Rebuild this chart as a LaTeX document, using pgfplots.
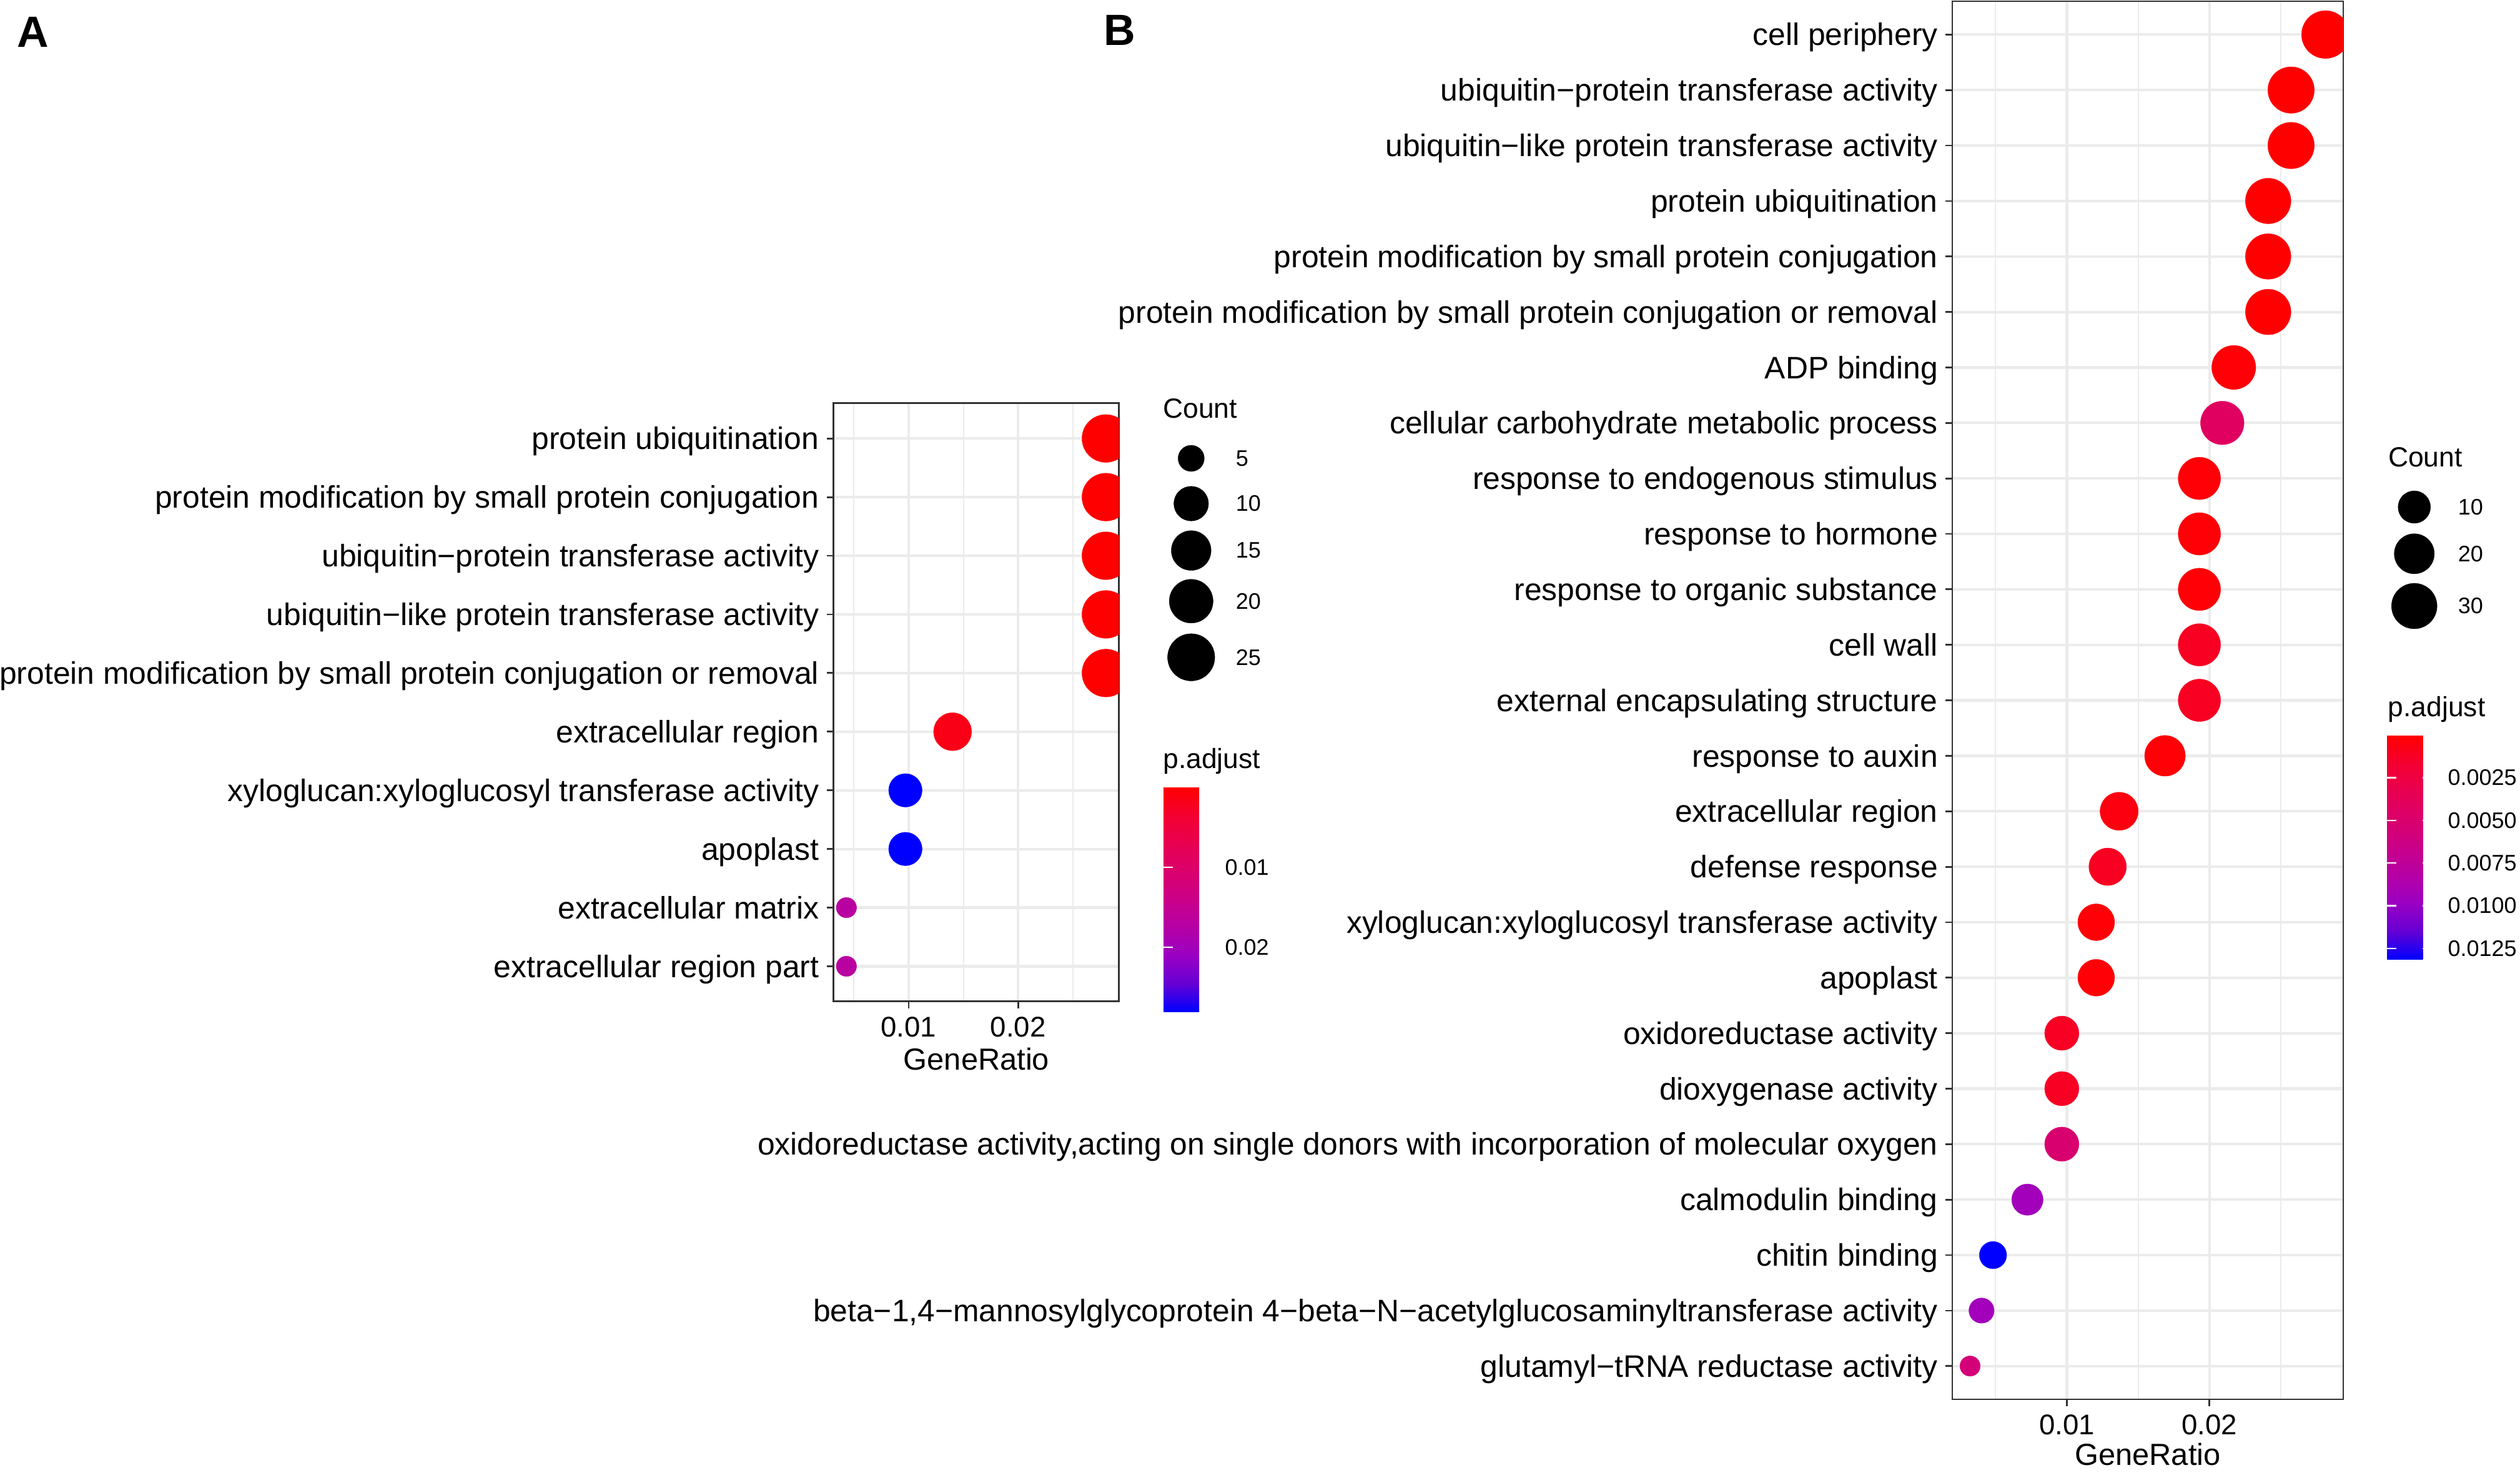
\documentclass[border=0pt]{standalone}
\usepackage{pgfplots}
\pgfplotsset{compat=1.18}
\usepackage{pgfplotstable}
\usepackage{fontspec}
\setmainfont{Liberation Sans}
\definecolor{gridc}{RGB}{235,235,235}
\definecolor{axc}{RGB}{51,51,51}

% Panel A: row (top=1), GeneRatio, Count, p.adjust
\pgfplotstableread{
row x count padj
1 0.028017 26 0.00002
2 0.028017 26 0.00002
3 0.028017 26 0.00002
4 0.028017 26 0.00002
5 0.028017 26 0.00002
6 0.014009 13 0.0016
7 0.009698 9 0.0281
8 0.009698 9 0.0281
9 0.004310 4 0.0169
10 0.004310 4 0.0169
}\dataA

% Panel B
\pgfplotstableread{
row x count padj
1 0.028135 35 0.00001
2 0.025723 32 0.00002
3 0.025723 32 0.00002
4 0.024116 30 0.00002
5 0.024116 30 0.00002
6 0.024116 30 0.00002
7 0.021704 27 0.0002
8 0.020900 26 0.0042
9 0.019293 24 0.0002
10 0.019293 24 0.0002
11 0.019293 24 0.0002
12 0.019293 24 0.0011
13 0.019293 24 0.0011
14 0.016881 21 0.0002
15 0.013666 17 0.0005
16 0.012862 16 0.0011
17 0.012058 15 0.0002
18 0.012058 15 0.0002
19 0.009646 12 0.0012
20 0.009646 12 0.0012
21 0.009646 12 0.0051
22 0.007235 9 0.0094
23 0.004823 6 0.01316
24 0.004019 5 0.0094
25 0.003215 4 0.0056
}\dataB

% size legends (positions in image pixels)
\pgfplotstableread{
x y count
1907.3 734 5
1907.3 806.5 10
1907.3 881.6 15
1907.3 962.7 20
1907.3 1052.6 25
}\legA
\pgfplotstableread{
x y count
3865.7 812 10
3865.7 886.8 20
3865.7 970.5 30
}\legB

\tikzset{
  legtxt/.style={anchor=west, inner sep=0pt, font=\fontsize{9}{10}\selectfont},
  legttl/.style={anchor=base west, inner sep=0pt, font=\fontsize{11.1}{13}\selectfont},
}

\pgfplotsset{
  colormap={ggrb}{rgb255=(255,0,0) rgb255=(244,0,49) rgb255=(232,0,80) rgb255=(218,0,108) rgb255=(202,0,137) rgb255=(181,0,165) rgb255=(154,0,195) rgb255=(101,0,212) rgb255=(0,0,255)},
  dotpanel/.style={
    scale only axis, anchor=north west, y dir=reverse,
    clip marker paths=true,
    axis line style={draw=axc, line width=0.7pt},
    scaled x ticks=false,
    xtick={0.01,0.02}, minor xtick={0.005,0.015,0.025},
    xmajorgrids, xminorgrids, ymajorgrids,
    major grid style={draw=gridc, line width=1.05pt},
    minor grid style={draw=gridc, line width=0.55pt},
    tick align=outside, xtick pos=bottom, ytick pos=left,
    major tick length=2.75pt, minor tick length=0pt,
    major tick style={draw=axc, line width=0.7pt},
    /pgf/number format/assume math mode=true,
    xticklabel style={font=\fontsize{11.4}{13}\selectfont, /pgf/number format/fixed, /pgf/number format/precision=2, anchor=base, inner sep=0pt, yshift=-11.4pt},
    yticklabel style={font=\fontsize{12.45}{14}\selectfont, anchor=east, inner sep=0pt, xshift=-2.85pt, yshift=-0.8pt, text height=0.72em, text depth=0pt},
    ymin=0.4,
    colorbar,
  },
  cbstyle/.style={
    at={(parent axis.north east)}, anchor=north west,
    scale only axis, y dir=reverse, axis on top,
    scaled y ticks=false,
    axis line style={draw=none},
    tick align=inside, ytick pos=both, yticklabel pos=right,
    major tick length=3.75pt,
    major tick style={draw=white, line width=0.6pt},
    /pgf/number format/assume math mode=true,
    yticklabel style={font=\fontsize{9}{10}\selectfont, anchor=west, inner sep=0pt, xshift=6.2pt, /pgf/number format/fixed},
  },
  dotplot/.style={scatter, only marks, mark=*, scatter src=explicit,
    scatter/use mapped color={draw=mapped color, fill=mapped color, line width=0.1pt},
    scatter/@pre marker code/.append style={/tikz/mark size=\rad pt}},
}

\begin{document}
\begin{tikzpicture}
% canvas axis in image pixel units (for legends and titles)
\begin{axis}[scale only axis, anchor=north west, at={(0pt,0pt)},
  width=1008.75pt, height=589.5pt,
  xmin=0, xmax=4035, ymin=0, ymax=2358, y dir=reverse,
  hide axis, clip=false]
\addplot[scatter, only marks, mark=*,
  scatter/use mapped color={draw=black, fill=black, line width=0.1pt},
  visualization depends on={(8.8*(1+5*sqrt((\thisrow{count}-4)/22))+23.76)/8 \as \rad},
  scatter/@pre marker code/.append style={/tikz/mark size=\rad pt}]
  table[x=x, y=y]{\legA};
\addplot[scatter, only marks, mark=*,
  scatter/use mapped color={draw=black, fill=black, line width=0.1pt},
  visualization depends on={(8.8*(1+5*sqrt((\thisrow{count}-4)/31))+23.76)/8 \as \rad},
  scatter/@pre marker code/.append style={/tikz/mark size=\rad pt}]
  table[x=x, y=y]{\legB};
% panel letters
\node[anchor=base west, inner sep=0pt, font=\bfseries\fontsize{17.5}{20}\selectfont] at (axis cs:27,75) {A};
\node[anchor=base west, inner sep=0pt, font=\bfseries\fontsize{17.5}{20}\selectfont] at (axis cs:1767,72) {B};
% x labels
\node[anchor=base, inner sep=0pt, font=\fontsize{12.2}{14}\selectfont] at (axis cs:1563.4,1713.5) {GeneRatio};
\node[anchor=base, inner sep=0pt, font=\fontsize{12.2}{14}\selectfont] at (axis cs:3439,2346.7) {GeneRatio};
% legend A
\node[legttl] at (axis cs:1861.7,669) {Count};
\node[legtxt] at (axis cs:1978,734) {5};
\node[legtxt] at (axis cs:1978,806.5) {10};
\node[legtxt] at (axis cs:1978,881.6) {15};
\node[legtxt] at (axis cs:1978,962.7) {20};
\node[legtxt] at (axis cs:1978,1052.6) {25};
\node[legttl] at (axis cs:1861.7,1230) {p.adjust};
% legend B
\node[legttl] at (axis cs:3823.3,747.4) {Count};
\node[legtxt] at (axis cs:3935,812) {10};
\node[legtxt] at (axis cs:3935,886.8) {20};
\node[legtxt] at (axis cs:3935,970.5) {30};
\node[legttl] at (axis cs:3823,1147.5) {p.adjust};
\end{axis}

% Panel A
\begin{axis}[dotpanel,
  at={(333.625pt,-161.45pt)}, width=114.25pt, height=239.5pt,
  xmin=0.003125, xmax=0.029202, ymax=10.6,
  ytick={1,...,10},
  yticklabels={
    {protein ubiquitination},
    {protein modification by small protein conjugation},
    {ubiquitin−protein transferase activity},
    {ubiquitin−like protein transferase activity},
    {protein modification by small protein conjugation or removal},
    {extracellular region},
    {xyloglucan:xyloglucosyl transferase activity},
    {apoplast},
    {extracellular matrix},
    {extracellular region part}},
  point meta min=0, point meta max=0.0281,
  colorbar style={cbstyle, xshift=9.4pt, yshift=-153.7pt, width=18.2pt, height=90pt,
    ytick={0.01,0.02}, yticklabel style={/pgf/number format/precision=2}},
]
\addplot[dotplot,
  visualization depends on={(8.8*(1+5*sqrt((\thisrow{count}-4)/22))+23.76)/8 \as \rad}]
  table[x=x, y=row, meta=padj]{\dataA};
\end{axis}

% Panel B
\begin{axis}[dotpanel,
  at={(781.5pt,-0.5pt)}, width=156.5pt, height=559.75pt,
  xmin=0.001969, xmax=0.029381, ymax=25.6,
  ytick={1,...,25},
  yticklabels={
    {cell periphery},
    {ubiquitin−protein transferase activity},
    {ubiquitin−like protein transferase activity},
    {protein ubiquitination},
    {protein modification by small protein conjugation},
    {protein modification by small protein conjugation or removal},
    {ADP binding},
    {cellular carbohydrate metabolic process},
    {response to endogenous stimulus},
    {response to hormone},
    {response to organic substance},
    {cell wall},
    {external encapsulating structure},
    {response to auxin},
    {extracellular region},
    {defense response},
    {xyloglucan:xyloglucosyl transferase activity},
    {apoplast},
    {oxidoreductase activity},
    {dioxygenase activity},
    {oxidoreductase activity,acting on single donors with incorporation of molecular oxygen},
    {calmodulin binding},
    {chitin binding},
    {beta−1,4−mannosylglycoprotein 4−beta−N−acetylglucosaminyltransferase activity},
    {glutamyl−tRNA reductase activity}},
  point meta min=0, point meta max=0.01316,
  colorbar style={cbstyle, xshift=9.05pt, yshift=-293.8pt, width=17.9pt, height=89.9pt,
    ytick={0.0025,0.005,0.0075,0.01,0.0125},
    yticklabel style={/pgf/number format/precision=4, /pgf/number format/fixed zerofill}},
]
\addplot[dotplot,
  visualization depends on={(8.8*(1+5*sqrt((\thisrow{count}-4)/31))+23.76)/8 \as \rad}]
  table[x=x, y=row, meta=padj]{\dataB};
\end{axis}

\pgfresetboundingbox
\path[use as bounding box] (0pt,0pt) rectangle (1008.75pt,-589.5pt);
\end{tikzpicture}
\end{document}
